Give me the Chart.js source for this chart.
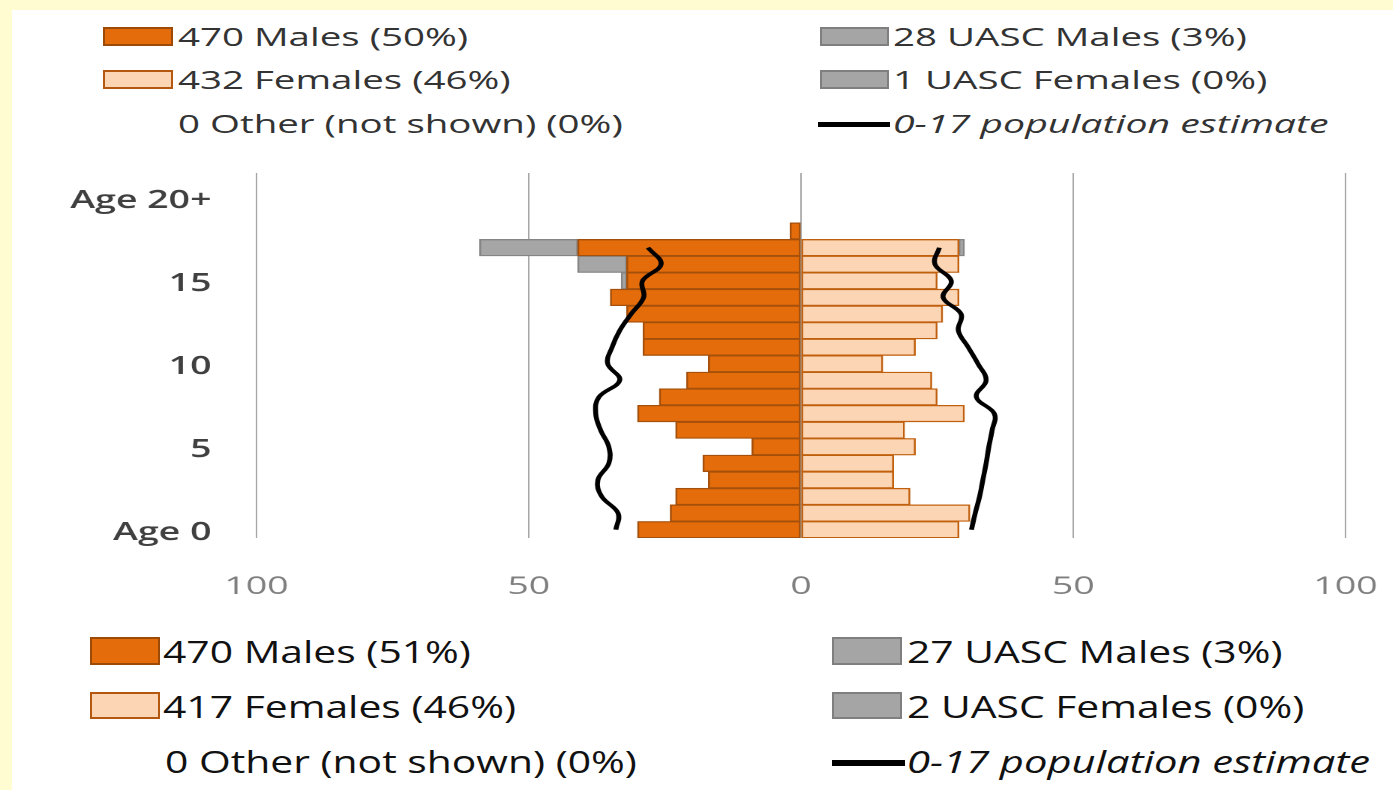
<!DOCTYPE html>
<html>
<head>
<meta charset="utf-8">
<script src="https://cdn.jsdelivr.net/npm/chart.js@4.4.1/dist/chart.umd.min.js"></script>
<style>
  html, body { margin: 0; padding: 0; }
  body {
    width: 1393px; height: 790px; position: relative; overflow: hidden;
    background: #fffcd2; font-family: "Open Sans", sans-serif;
  }
  #panel { position: absolute; left: 12px; top: 10px; right: 0; bottom: 0; background: #fff; }
  #chartBox {
    position: absolute; left: 0; top: 150px; width: 929px; height: 470px;
    transform: scaleX(1.5); transform-origin: 0 0;
  }
  .key { position: absolute; box-sizing: border-box; }
  .txt { position: absolute; white-space: nowrap; transform-origin: 0 50%; line-height: 1.2; }
  .top { font-size: 26px; color: #333; transform: scaleX(1.48); }
  .bot { font-size: 31px; color: #111; transform: scaleX(1.317); }
  .top.it { font-style: italic; transform: scaleX(1.51); }
  .bot.it { font-style: italic; transform: scaleX(1.346); }
  .male { background: #e46c0a; border: 2px solid #9c4a06; }
  .female { background: #fcd5b5; border: 2px solid #b4580f; }
  .uasc { background: #a5a5a5; border: 2px solid #7f7f7f; }
  .pop { background: #000; }
</style>
</head>
<body>
<div id="panel"></div>

<!-- top legend -->
<div class="key male" style="left:103px; top:27px; width:70px; height:19px;"></div>
<div class="txt top" style="left:178px; top:20.6px;">470 Males (50%)</div>
<div class="key female" style="left:103px; top:70px; width:70px; height:19px;"></div>
<div class="txt top" style="left:178px; top:63.6px;">432 Females (46%)</div>
<div class="txt top" style="left:178px; top:107.6px;">0 Other (not shown) (0%)</div>
<div class="key uasc" style="left:820px; top:27px; width:69px; height:19px;"></div>
<div class="txt top" style="left:893px; top:20.6px;">28 UASC Males (3%)</div>
<div class="key uasc" style="left:820px; top:70px; width:69px; height:19px;"></div>
<div class="txt top" style="left:893px; top:63.6px;">1 UASC Females (0%)</div>
<div class="key pop" style="left:818px; top:122px; width:72px; height:5px;"></div>
<div class="txt top it" style="left:893px; top:107.6px;">0-17 population estimate</div>

<div id="chartBox"><canvas id="pyramid"></canvas></div>

<!-- bottom legend -->
<div class="key male" style="left:90px; top:637px; width:70px; height:28px;"></div>
<div class="txt bot" style="left:163px; top:632.5px;">470 Males (51%)</div>
<div class="key female" style="left:90px; top:692px; width:70px; height:27px;"></div>
<div class="txt bot" style="left:163px; top:687.5px;">417 Females (46%)</div>
<div class="txt bot" style="left:165px; top:742.5px;">0 Other (not shown) (0%)</div>
<div class="key uasc" style="left:832px; top:637px; width:70px; height:28px;"></div>
<div class="txt bot" style="left:907px; top:632.5px;">27 UASC Males (3%)</div>
<div class="key uasc" style="left:832px; top:692px; width:70px; height:27px;"></div>
<div class="txt bot" style="left:907px; top:687.5px;">2 UASC Females (0%)</div>
<div class="key pop" style="left:832px; top:760px; width:73px; height:6px;"></div>
<div class="txt bot it" style="left:907px; top:742.5px;">0-17 population estimate</div>

<script>
// ages 0..21 (20 = "Age 20+", 21 left blank as in the original)
const ageLabels = ["Age 0", "", "", "", "", "5", "", "", "", "", "10", "", "", "", "", "15", "", "", "", "", "Age 20+", ""];

const males =        [30, 24, 23, 17, 18, 9, 23, 30, 26, 21, 17, 29, 29, 32, 35, 32, 32, 41, 2, 0, 0, 0];
const uascMales =    [0, 0, 0, 0, 0, 0, 0, 0, 0, 0, 0, 0, 0, 0, 0, 1, 9, 18, 0, 0, 0, 0];
const females =      [29, 31, 20, 17, 17, 21, 19, 30, 25, 24, 15, 21, 25, 26, 29, 25, 29, 29, 0, 0, 0, 0];
const uascFemales =  [0, 0, 0, 0, 0, 0, 0, 0, 0, 0, 0, 0, 0, 0, 0, 0, 0, 1, 0, 0, 0, 0];

// 0-17 population estimate, ages 0..17
const popMales =   [34.0, 33.6, 36.6, 37.3, 35.3, 35.3, 36.8, 37.7, 37.1, 33.3, 35.5, 34.7, 33.3, 31.2, 28.9, 29.1, 25.7, 28.1];
const popFemales = [31.3, 32.0, 32.8, 33.4, 34.0, 34.5, 35.1, 35.5, 32.2, 34.0, 32.5, 30.7, 28.9, 29.4, 26.1, 27.6, 24.6, 25.4];

const barStyle = (fill, edge) => ({
  backgroundColor: fill,
  borderColor: edge,
  borderWidth: 1.3,
  borderSkipped: false,
  barPercentage: 1,
  categoryPercentage: 1,
  grouped: false,
  stack: "pyramid",
  order: 1,
});

const popLine = (values, stack) => ({
  type: "line",
  indexAxis: "y",
  data: values,
  borderColor: "#000",
  borderWidth: 3.3,
  pointRadius: 0,
  tension: 0.4,
  fill: false,
  stack: stack,
  order: 0,
});

const ctx = document.getElementById("pyramid");

new Chart(ctx, {
  type: "bar",
  data: {
    labels: ageLabels,
    datasets: [
      { label: "Males", data: males.map((v) => -v), ...barStyle("#e46c0a", "#a4500c") },
      { label: "UASC Males", data: uascMales.map((v) => -v), ...barStyle("#a6a6a6", "#858585") },
      { label: "Females", data: females, ...barStyle("#fcd5b5", "#c0600e") },
      { label: "UASC Females", data: uascFemales, ...barStyle("#a6a6a6", "#858585") },
      { label: "pop males", ...popLine(popMales.map((v) => -v), "pm") },
      { label: "pop females", ...popLine(popFemales, "pf") },
    ],
  },
  options: {
    indexAxis: "y",
    responsive: true,
    maintainAspectRatio: false,
    animation: false,
    devicePixelRatio: 2,
    layout: { padding: { top: 23, right: 32, left: 0, bottom: 0 } },
    datasets: {
      bar: { barPercentage: 1, categoryPercentage: 1, grouped: false },
    },
    plugins: {
      legend: { display: false },
      tooltip: { enabled: false },
    },
    scales: {
      x: {
        type: "linear",
        min: -100,
        max: 100,
        stacked: true,
        ticks: {
          stepSize: 50,
          callback: (value) => Math.abs(value),
          color: "#7f7f7f",
          font: { family: "Open Sans", size: 25 },
          padding: 0,
        },
        grid: { color: "#a6a6a6", lineWidth: 1, drawTicks: true, tickLength: 34, tickColor: "rgba(0,0,0,0)" },
        border: { display: false },
        afterFit: (scale) => { scale.height = 82; },
      },
      y: {
        type: "category",
        reverse: true,
        stacked: true,
        ticks: {
          autoSkip: false,
          color: "#404040",
          font: { family: "Open Sans", size: 25, weight: "600" },
          padding: 0,
          labelOffset: 3,
        },
        grid: { display: true, drawOnChartArea: false, drawTicks: true, tickLength: 30, tickColor: "rgba(0,0,0,0)" },
        border: { display: false },
        afterFit: (scale) => { scale.width = 171; },
      },
    },
  },
});
</script>
</body>
</html>
